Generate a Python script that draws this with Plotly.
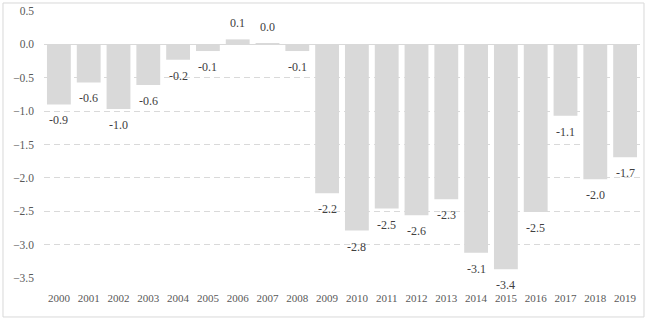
import plotly.graph_objects as go

years = [str(y) for y in range(2000, 2020)]
values = [-0.90, -0.57, -0.97, -0.61, -0.23, -0.10, 0.075, 0.02, -0.10,
          -2.23, -2.79, -2.46, -2.56, -2.32, -3.12, -3.37, -2.51, -1.07, -2.02, -1.69]

FONT = "Liberation Serif"

fig = go.Figure()
fig.add_trace(go.Bar(
    x=years, y=values,
    marker=dict(color="#d9d9d9", line=dict(width=0)),
    width=0.8,
    hoverinfo="x+y",
))

annotations = []
for i, v in enumerate(values):
    neg = v < 0
    annotations.append(dict(
        x=i, y=v, xref="x", yref="y",
        text=f"{v:.1f}" if abs(v) >= 0.05 else "0.0",
        showarrow=False,
        yanchor="top" if neg else "bottom",
        yshift=-7 if neg else 7,
        font=dict(family=FONT, size=12, color="#404040"),
    ))

fig.update_layout(
    width=650, height=323,
    margin=dict(l=44, r=10, t=11, b=45, autoexpand=False),
    paper_bgcolor="white", plot_bgcolor="white",
    showlegend=False,
    annotations=annotations,
    font=dict(family=FONT, size=11, color="#595959"),
    shapes=[dict(type="rect", xref="paper", yref="paper",
                 x0=-0.0688, x1=1.0067, y0=-0.146, y1=1.03,
                 line=dict(color="#d9d9d9", width=1), layer="below")],
)
fig.update_xaxes(
    type="category", range=[-0.5, len(years) - 0.5], automargin=False,
    showgrid=False, showline=False, zeroline=False,
    ticks="", ticklabelstandoff=12,
    tickfont=dict(family=FONT, size=11, color="#595959"),
)
fig.update_yaxes(
    range=[-3.5, 0.5], dtick=0.5, tick0=0, tickformat=".1f", automargin=False,
    showgrid=True, gridcolor="#d9d9d9", griddash="6px,4px", gridwidth=1,
    zeroline=True, zerolinecolor="#d9d9d9", zerolinewidth=1,
    showline=False, ticks="", ticklabelstandoff=9,
    tickfont=dict(family=FONT, size=11.5, color="#595959"),
)

fig.write_html("out.html", config={"displayModeBar": False},
               post_script="document.body.style.margin='0px';document.body.style.padding='0px';")
